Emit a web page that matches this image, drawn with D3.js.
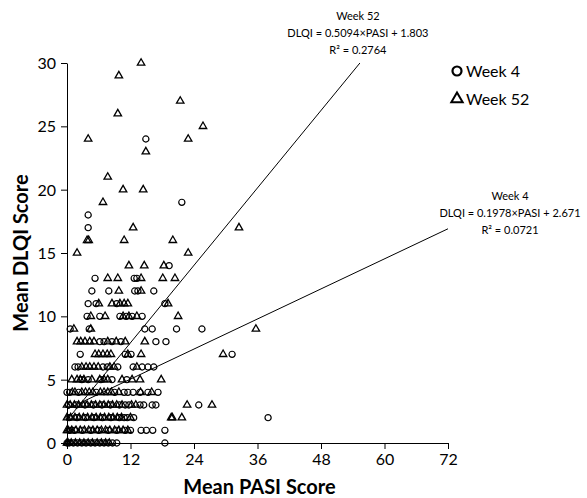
<!DOCTYPE html>
<html lang="en">
	<head>
		<meta charset="utf-8">
		<title>DLQI vs PASI</title>
		<script type="text/javascript" src="https://cdn.jsdelivr.net/npm/d3@7"></script>
		<style type="text/css">
			body { margin: 0; background: #fff; }
			svg { display: block; }
		</style>
	</head>
	<body>
        <svg width="587" height="498" font-family="Lato, 'Open Sans', sans-serif"></svg>
		<script type="text/javascript">

            // rows of [PASI, DLQI]
            const week4 = [
                [0,0],[0.4,0],[1.2,0],[2,0],[2.8,0],[3.6,0],[4.5,0],[5.3,0],[6.2,0],[7,0],[7.8,0],[8.6,0],[9.4,0],[18.5,0],
                [0.5,1],[1.4,1],[2.9,1],[4.5,1],[6,1],[7.8,1],[9.4,1],[11,1],[12,1],[14,1],[15,1],[16.2,1],[18.5,1],
                [0.4,2],[1.9,2],[3.5,2],[5.1,2],[6.7,2],[8.3,2],[9.9,2],[10.8,2],[11.4,2],[12.6,2],[38,2],
                [0.3,3],[1.8,3],[3.4,3],[5,3],[6.6,3],[8.2,3],[9.9,3],[11,3],[11.7,3],[13.8,3],[14.5,3],[16.1,3],[16.8,3],[24.9,3],
                [0,4],[0.5,4],[2.2,4],[5.5,4],[9,4],[10.8,4],[11.5,4],[12.5,4],[13.8,4],[15.3,4],[17.2,4],
                [2.8,5],[4,5],[6.4,5],[8.5,5],[11.3,5],
                [1.5,6],[2.1,6],[6.8,6],[7.6,6],[9.6,6],[12.5,6],[14.2,6],[15.3,6],[16.4,6],
                [2.5,7],[11,7],[12.1,7],[31.2,7],
                [6.2,8],[7,8],[8.5,8],[10.2,8],[16.8,8],[18.7,8],
                [0.6,9],[4.2,9],[14.7,9],[16.1,9],[20.7,9],[25.5,9],
                [3.8,10],[6.2,10],[10,10],[11.2,10],[12.3,10],[14.2,10],
                [4,11],[5.5,11],[9.4,11],[18.5,11],
                [4.7,12],[7.9,12],[12.8,12],[13.4,12],[16.4,12],
                [5.3,13],[12.7,13],[13.2,13],
                [19.3,14],
                [4,17],[4,18],[21.7,19],[14.9,24]
            ];

            const week52 = [
                [0,0],[0.2,0],[0.8,0],[1.6,0],[2.4,0],[3.2,0],[4,0],[4.8,0],[5.7,0],[6.5,0],[7.3,0],[8,0],
                [0,1],[0.2,1],[0.9,1],[1.7,1],[2.5,1],[3.3,1],[4.1,1],[4.9,1],[5.7,1],[6.5,1],[7.3,1],[8.1,1],[9,1],[9.8,1],[10.6,1],[11.5,1],
                [0,2],[0.7,2],[1.5,2],[2.3,2],[3.1,2],[3.9,2],[4.7,2],[5.5,2],[6.3,2],[7.1,2],[7.9,2],[8.7,2],[9.5,2],[10.3,2],[12,2],[19.7,2],[19.9,2],[21.7,2],
                [0,3],[0.6,3],[1.4,3],[2.2,3],[3,3],[3.8,3],[4.6,3],[5.4,3],[6.2,3],[7,3],[7.8,3],[8.6,3],[9.4,3],[10.4,3],[12.2,3],[13,3],[22.7,3],[27.4,3],
                [1,4],[1.5,4],[2.8,4],[3.5,4],[4.2,4],[4.9,4],[6.3,4],[7,4],[7.7,4],[8.4,4],[9.8,4],[13.9,4],[16,4],
                [0.9,5],[1.9,5],[2.5,5],[3.2,5],[4.7,5],[6.2,5],[7,5],[7.7,5],[10.4,5],[12.3,5],[13.8,5],[17.8,5],
                [2.8,6],[3.6,6],[4.3,6],[5.1,6],[5.9,6],[8.1,6],[8.9,6],[13.2,6],
                [5.3,7],[6,7],[6.8,7],[7.6,7],[8.3,7],[11.5,7],[14,7],[29.5,7],
                [1.9,8],[2.6,8],[3.4,8],[4.3,8],[5.1,8],[7.7,8],[9.3,8],[11,8],[14.7,8],
                [1.3,9],[4.5,9],[35.7,9],
                [4.5,10],[7.2,10],[10.6,10],[11.7,10],[13.2,10],[21,10],
                [6,11],[8.5,11],[10,11],[10.8,11],[11.5,11],[19.1,11],
                [9.8,12],[14,12],
                [7.7,13],[9.6,13],[14,13],[18.1,13],[20.4,13],
                [11.7,14],[14.6,14],[18.3,14],
                [1.9,15],[22.9,15],
                [3.8,16],[4.1,16],[10.8,16],[20,16],
                [12.5,17],[32.5,17],
                [6.8,19],[10.6,20],[14.4,20],[7.7,21],[14.9,23],
                [4,24],[22.9,24],[25.7,25],[9.6,26],[21.4,27],[9.8,29],[14,30]
            ];

            const fits = [
                { name: 'Week 52', slope: 0.5094, intercept: 1.803, r2: '0.2764' },
                { name: 'Week 4', slope: 0.1978, intercept: 2.671, r2: '0.0721' }
            ];

            const xTicks = [0, 12, 24, 36, 48, 60, 72];
            const yTicks = [0, 5, 10, 15, 20, 25, 30];

            const svg = d3.select('svg');
            const margin = { left: 67, top: 63 };
            const innerWidth = 381;
            const innerHeight = 380;

            const g = svg.append('g')
                .attr('transform', `translate(${margin.left}, ${margin.top})`);

            const xScale = d3.scaleLinear().domain([0, 72]).range([0, innerWidth]);
            const yScale = d3.scaleLinear().domain([0, 30]).range([innerHeight, 0]);

            const xAxis = d3.axisBottom(xScale).tickValues(xTicks).tickSize(6).tickSizeOuter(0);
            const yAxis = d3.axisLeft(yScale).tickValues(yTicks).tickSize(6).tickSizeOuter(0).tickPadding(5);

            const xAxisG = g.append('g')
                .attr('transform', `translate(0, ${innerHeight})`)
                .call(xAxis);
            const yAxisG = g.append('g').call(yAxis);

            [xAxisG, yAxisG].forEach(a => {
                a.attr('font-family', null).attr('font-size', 16);
                a.selectAll('path, line').attr('stroke', '#000').attr('stroke-width', 1);
                a.selectAll('text').attr('fill', '#000').attr('dy', null);
            });
            // baseline positions instead of em offsets
            xAxisG.selectAll('text').attr('y', 22);
            yAxisG.selectAll('text').attr('y', 5.5);

            // regression lines
            const line = d3.line().x(d => xScale(d[0])).y(d => yScale(d[1]));
            fits.forEach(f => {
                const xEnd = Math.min(72, (30 - f.intercept) / f.slope);
                f.end = [xEnd, f.slope * xEnd + f.intercept];
                g.append('path')
                    .attr('d', line([[0, f.intercept], f.end]))
                    .attr('fill', 'none')
                    .attr('stroke', '#000')
                    .attr('stroke-width', 1);
            });

            const circle = d3.symbol().type(d3.symbolCircle).size(30);
            const triangle = d3.symbol().type(d3.symbolTriangle).size(24);

            g.selectAll('.w52').data(week52)
                .enter().append('path')
                .attr('class', 'w52')
                .attr('d', triangle)
                .attr('transform', d => `translate(${xScale(d[0])}, ${yScale(d[1])})`)
                .attr('fill', 'none')
                .attr('stroke', '#000')
                .attr('stroke-width', 1.3);

            g.selectAll('.w4').data(week4)
                .enter().append('path')
                .attr('class', 'w4')
                .attr('d', circle)
                .attr('transform', d => `translate(${xScale(d[0])}, ${yScale(d[1])})`)
                .attr('fill', 'none')
                .attr('stroke', '#000')
                .attr('stroke-width', 1.2);

            // equation labels, one text per line
            const labelOffsets = [{ dx: -2, dy: -43 }, { dx: 62, dy: -29 }];
            fits.forEach((f, i) => {
                const cx = xScale(f.end[0]) + labelOffsets[i].dx;
                const cy = yScale(f.end[1]) + labelOffsets[i].dy;
                const lines = [f.name, `DLQI = ${f.slope}\u00d7PASI + ${f.intercept}`, `R\u00b2 = ${f.r2}`];
                g.selectAll(`.eq${i}`).data(lines)
                    .enter().append('text')
                    .attr('class', `eq${i}`)
                    .attr('x', cx)
                    .attr('y', (d, j) => cy + j * 17)
                    .attr('text-anchor', 'middle')
                    .attr('font-size', 11)
                    .attr('fill', '#000')
                    .text(d => d);
            });

            // legend
            const legend = svg.append('g').attr('transform', 'translate(457, 71)');
            legend.append('path').attr('d', d3.symbol().type(d3.symbolCircle).size(64))
                .attr('fill', 'none').attr('stroke', '#000').attr('stroke-width', 2.2);
            legend.append('text').attr('x', 9).attr('y', 6).attr('font-size', 16).text('Week 4');
            legend.append('path').attr('d', d3.symbol().type(d3.symbolTriangle).size(56))
                .attr('transform', 'translate(0, 28)')
                .attr('fill', 'none').attr('stroke', '#000').attr('stroke-width', 2);
            legend.append('text').attr('x', 9).attr('y', 34).attr('font-size', 16).text('Week 52');

            // axis titles
            svg.append('text')
                .attr('x', margin.left + innerWidth / 2 + 2)
                .attr('y', 494)
                .attr('text-anchor', 'middle')
                .attr('font-size', 20)
                .attr('font-weight', 'bold')
                .text('Mean PASI Score');

            svg.append('text')
                .attr('transform', `translate(28, ${margin.top + innerHeight / 2}) rotate(-90)`)
                .attr('text-anchor', 'middle')
                .attr('font-size', 20)
                .attr('font-weight', 'bold')
                .text('Mean DLQI Score');

		</script>
	</body>
</html>
